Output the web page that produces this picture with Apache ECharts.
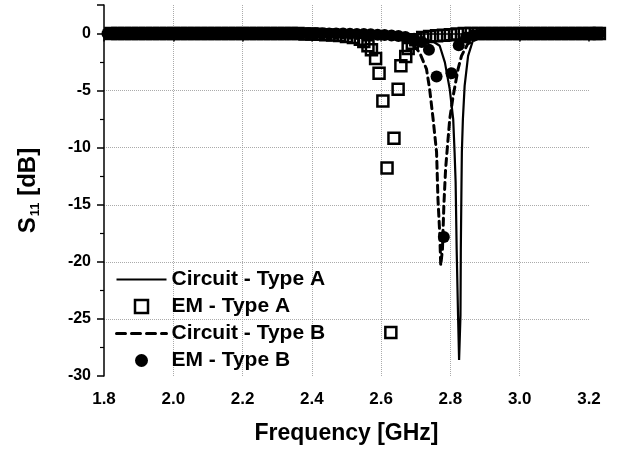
<!DOCTYPE html>
<html>
<head>
<meta charset="utf-8">
<script src="https://cdn.jsdelivr.net/npm/echarts@6/dist/echarts.min.js"></script>
<style>
  html, body { margin: 0; padding: 0; background: #fff; }
  #chart { width: 630px; height: 450px; }
</style>
</head>
<body>
<div id="chart"></div>
<script>
// circuit model, type A (solid line)
var circAFreq = [1.80, 2.20, 2.50, 2.65, 2.72, 2.75, 2.769, 2.784, 2.798, 2.808, 2.812, 2.815, 2.818, 2.822, 2.825,
                 2.829, 2.830, 2.832, 2.833, 2.836, 2.841, 2.851, 2.865, 2.90, 2.95, 3.05, 3.20];
var circAVal  = [0, -0.02, -0.08, -0.2, -0.45, -0.7, -1.07, -2.53, -4.87, -7.49, -10.4, -13.0, -18.9, -24.7, -28.6,
                 -24.7, -18.9, -13.0, -10.4, -7.49, -4.58, -1.96, -0.6, -0.25, -0.12, -0.05, 0];

// circuit model, type B (dashed line)
var circBFreq = [1.80, 2.30, 2.55, 2.65, 2.69, 2.711, 2.731, 2.740, 2.750, 2.760, 2.764, 2.769, 2.772,
                 2.777, 2.781, 2.786, 2.790, 2.798, 2.808, 2.822, 2.832, 2.85, 2.88, 2.95, 3.20];
var circBVal  = [0, -0.03, -0.12, -0.35, -0.9, -1.66, -3.12, -4.87, -7.49, -10.4, -14.5, -17.4, -20.3,
                 -18.9, -15.1, -11.9, -10.4, -7.49, -5.45, -3.12, -1.96, -0.9, -0.4, -0.15, 0];

// EM simulation, type A (open squares)
var emAFreq = [1.82, 1.84, 1.86, 1.88, 1.90, 1.92, 1.94, 1.96, 1.98, 2.00, 2.02, 2.04, 2.06, 2.08, 2.10,
               2.12, 2.14, 2.16, 2.18, 2.20, 2.22, 2.24, 2.26, 2.28, 2.30, 2.32, 2.34, 2.36, 2.38, 2.40,
               2.42, 2.44, 2.46, 2.48, 2.50, 2.52, 2.54, 2.55, 2.562, 2.572, 2.584, 2.594, 2.605, 2.617,
               2.628, 2.637, 2.649, 2.657, 2.671, 2.678, 2.69, 2.70, 2.72, 2.74, 2.76, 2.78, 2.80, 2.82,
               2.84, 2.86, 2.88, 2.90, 2.92, 2.94, 2.96, 2.98, 3.00, 3.02, 3.04, 3.06, 3.08, 3.10, 3.12,
               3.14, 3.16, 3.18, 3.20, 3.22, 3.23];
var emAVal  = [0, 0, 0, 0, 0, 0, 0, 0, 0, 0, 0, 0, 0, 0, 0,
               0, 0, 0, 0, 0, 0, 0, 0, 0, 0, 0, 0, 0, -0.03, -0.05,
               -0.07, -0.1, -0.13, -0.18, -0.25, -0.35, -0.5, -0.7, -1.08, -1.43, -2.19, -3.47, -5.92, -11.77,
               -26.2, -9.18, -4.87, -2.83, -2.01, -1.31, -0.85, -0.55, -0.35, -0.25, -0.2, -0.15, -0.1, -0.05,
               0, 0, 0, 0, 0, 0, 0, 0, 0, 0, 0, 0, 0, 0, 0,
               0, 0, 0, 0, 0, 0];

// EM simulation, type B (filled circles)
var emBFreq = [1.81, 1.83, 1.85, 1.87, 1.89, 1.91, 1.93, 1.95, 1.97, 1.99, 2.01, 2.03, 2.05, 2.07, 2.09,
               2.11, 2.13, 2.15, 2.17, 2.19, 2.21, 2.23, 2.25, 2.27, 2.29, 2.31, 2.33, 2.35, 2.37, 2.39,
               2.41, 2.43, 2.45, 2.47, 2.49, 2.51, 2.53, 2.55, 2.57, 2.59, 2.61, 2.63, 2.65, 2.67, 2.695,
               2.717, 2.738, 2.760, 2.781, 2.803, 2.824, 2.845, 2.866, 2.89, 2.91, 2.93, 2.95, 2.97, 2.99,
               3.01, 3.03, 3.05, 3.07, 3.09, 3.11, 3.13, 3.15, 3.17, 3.19, 3.21, 3.23];
var emBVal  = [0, 0, 0, 0, 0, 0, 0, 0, 0, 0, 0, 0, 0, 0, 0,
               0, 0, 0, 0, 0, 0, 0, 0, 0, 0, 0, 0, 0, 0, 0,
               0, 0, 0, 0, 0, -0.02, -0.03, -0.05, -0.07, -0.1, -0.13, -0.17, -0.22, -0.3, -0.45,
               -0.75, -1.43, -3.76, -17.83, -3.47, -1.02, -0.35, -0.15, -0.05, 0, 0, 0, 0, 0,
               0, 0, 0, 0, 0, 0, 0, 0, 0, 0, 0, 0];

var xTicks = { min: 1.8, max: 3.2, step: 0.2 };
var yTicks = { min: -30, max: 2.5, step: 5 };

function pairs(xs, ys) {
    var out = [];
    for (var i = 0; i < xs.length; i++) {
        out.push([xs[i], ys[i]]);
    }
    return out;
}

var font = "'Liberation Sans', Arial, Helvetica, sans-serif";
var grid = 'rgba(150,150,150,0.8)';

var option = {
    animation: false,
    backgroundColor: '#fff',
    textStyle: { fontFamily: font },
    grid: { left: 104, right: 41, top: 5, bottom: 73 },
    legend: {
        orient: 'vertical',
        left: 110,
        top: 264,
        itemWidth: 50,
        itemHeight: 13,
        itemGap: 6,
        itemTextGap: 6,
        symbolKeepAspect: true,
        textStyle: { fontFamily: font, fontSize: 21, fontWeight: 'bold', color: '#000' },
        data: [
            { name: 'Circuit - Type A', itemStyle: { opacity: 0 } },
            { name: 'EM - Type A', icon: 'path://M0,0H10V10H0Z', itemStyle: { borderWidth: 2.5 } },
            { name: 'Circuit - Type B', itemStyle: { opacity: 0 }, lineStyle: { type: [9, 6], width: 3 } },
            { name: 'EM - Type B' }
        ]
    },
    xAxis: {
        type: 'value',
        min: xTicks.min,
        max: xTicks.max,
        interval: xTicks.step,
        name: 'Frequency [GHz]',
        nameLocation: 'middle',
        nameGap: 46,
        nameTextStyle: { fontFamily: font, fontSize: 23, fontWeight: 'bold', color: '#000' },
        axisLine: { lineStyle: { color: '#000', width: 1.5 } },
        axisTick: { length: 8, lineStyle: { color: '#000', width: 1.5 } },
        minorTick: { show: true, splitNumber: 2, length: 4, lineStyle: { color: '#000', width: 1.2 } },
        axisLabel: {
            margin: 15,
            fontFamily: font, fontSize: 17, fontWeight: 'bold', color: '#000',
            formatter: function (v) { return v.toFixed(1); }
        },
        splitLine: {
            show: true,
            lineStyle: {
                type: 'dotted', width: 1,
                color: ['transparent', grid, grid, grid, grid, grid, grid, 'transparent']
            }
        }
    },
    yAxis: {
        type: 'value',
        min: yTicks.min,
        max: yTicks.max,
        interval: yTicks.step,
        name: '{a|S}{b|11}{a| [dB]}',
        nameLocation: 'middle',
        nameGap: 62,
        nameTextStyle: {
            fontFamily: font, fontSize: 24, fontWeight: 'bold', color: '#000',
            rich: {
                a: { fontFamily: font, fontSize: 24, fontWeight: 'bold', color: '#000', lineHeight: 28, verticalAlign: 'middle' },
                b: { fontFamily: font, fontSize: 13, fontWeight: 'bold', color: '#000', lineHeight: 13, verticalAlign: 'bottom', padding: [18, 0, 0, 1] }
            }
        },
        axisLine: { lineStyle: { color: '#000', width: 1.5 } },
        axisTick: { length: 7, lineStyle: { color: '#000', width: 1.5 } },
        minorTick: { show: true, splitNumber: 2, length: 4, lineStyle: { color: '#000', width: 1.2 } },
        axisLabel: {
            margin: 13,
            fontFamily: font, fontSize: 16, fontWeight: 'bold', color: '#000',
            formatter: function (v) { return v > 0 ? '' : String(v); }
        },
        splitLine: {
            show: true,
            lineStyle: {
                type: 'dotted', width: 1,
                color: ['transparent', grid, grid, grid, grid, grid, 'transparent', 'transparent']
            }
        }
    },
    series: [
        {
            name: 'Circuit - Type A',
            type: 'line',
            symbol: 'none',
            data: pairs(circAFreq, circAVal),
            lineStyle: { color: '#000', width: 2.2 },
            itemStyle: { color: '#000' },
            z: 2
        },
        {
            name: 'EM - Type A',
            type: 'scatter',
            symbol: 'rect',
            symbolSize: 11,
            clip: false,
            data: pairs(emAFreq, emAVal),
            itemStyle: { color: 'rgba(255,255,255,0)', borderColor: '#000', borderWidth: 2.5, opacity: 1 },
            z: 3
        },
        {
            name: 'Circuit - Type B',
            type: 'line',
            symbol: 'none',
            data: pairs(circBFreq, circBVal),
            lineStyle: { color: '#000', width: 3, type: [7, 5], cap: 'round' },
            itemStyle: { color: '#000' },
            z: 2
        },
        {
            name: 'EM - Type B',
            type: 'scatter',
            symbol: 'circle',
            symbolSize: 12,
            clip: false,
            data: pairs(emBFreq, emBVal),
            itemStyle: { color: '#000', opacity: 1 },
            z: 4
        }
    ]
};

var myChart = echarts.init(document.getElementById('chart'));
myChart.setOption(option);
</script>
</body>
</html>
